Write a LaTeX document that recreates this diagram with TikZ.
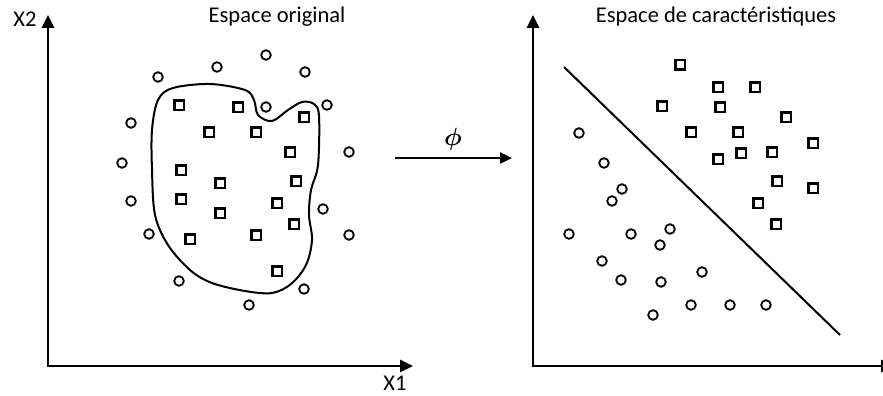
\documentclass[tikz,border=0pt]{standalone}
\usepackage{fontspec}
\setmainfont{Carlito}
\usetikzlibrary{arrows.meta}
\begin{document}
\begin{tikzpicture}[x=1pt,y=-1pt,
  pt/.style={circle, draw, line width=1.8pt, minimum size=9.6pt, inner sep=0pt},
  sq/.style={rectangle, draw, line width=2.6pt, minimum size=9.6pt, inner sep=0pt},
  axis/.style={line width=2.6pt, {Triangle[length=13pt,width=12pt]}-{Triangle[length=13pt,width=12pt]}},
  lbl/.style={font=\fontsize{22.5}{22.5}\selectfont, inner sep=0pt},
  philbl/.style={font=\fontsize{24}{24}\selectfont\boldmath, inner sep=0pt}]
\clip (0,0) rectangle (883,396);
\useasboundingbox (0,0) rectangle (883,396);
% left axes
\coordinate (ly) at (48,15);
\coordinate (lo) at (48,366);
\coordinate (lx) at (413,366);
\draw[axis] (ly) -- (lo) -- (lx);
\node[lbl] (lX2) at (25,19) {X2};
\node[lbl] (lX1) at (395,383) {X1};
\node[lbl] (ltitle) at (277,17) {Espace original};
% right axes
\coordinate (ry) at (533,15);
\coordinate (ro) at (533,366);
\coordinate (rx) at (894,366);
\draw[axis] (ry) -- (ro) -- (rx);
\node[lbl] (rtitle) at (716,17) {Espace de caractéristiques};
% blob
\draw[line width=2pt] plot[smooth cycle, tension=0.55] coordinates {
 (152,130) (158,100) (173,88) (210,84) (245,90) (254,100) (258,115) (272,121)
 (288,110) (302,102) (314,104) (319,116) (318,165) (311,190) (309,215) (312,240)
 (306,265) (291,284) (272,293) (245,291) (212,283) (190,270) (168,245) (155,215) (152,170)};
% left circles
\foreach \x/\y [count=\i] in {158/77,217/67,266/55,305/72,327/105,266/107,131/123,349/152,
  122/163,131/201,323/209,149/234,349/235,179/281,304/289,249/305}
  \node[pt] (lc\i) at (\x,\y) {};
% left squares
\foreach \x/\y [count=\i] in {179/105,238/107,304/117,209/132,256/132,290/152,181/170,220/183,
  296/181,181/199,277/203,220/213,294/224,190/239,256/235,277/271}
  \node[sq] (ls\i) at (\x,\y) {};
% mapping arrow
\coordinate (pa) at (395,158);
\coordinate (pb) at (512,158);
\draw[line width=2.4pt,-{Triangle[length=12pt,width=11pt]}] (pa) -- (pb);
\node[philbl] (phi) at (453,139) {$\phi$};
% separating line
\coordinate (sa) at (564,67);
\coordinate (sb) at (840,335);
\draw[line width=2pt] (sa) -- (sb);
% right squares
\foreach \x/\y [count=\i] in {680/65,718/87,755/87,662/106,720/107,786/117,691/132,738/132,
  813/143,718/159,741/153,772/152,777/181,813/188,758/203,776/224}
  \node[sq] (rs\i) at (\x,\y) {};
% right circles
\foreach \x/\y [count=\i] in {579/133,604/163,622/189,612/201,569/234,631/234,670/229,660/245,
  602/261,621/280,661/282,702/272,691/305,730/305,766/305,653/315}
  \node[pt] (rc\i) at (\x,\y) {};
\end{tikzpicture}
\end{document}
